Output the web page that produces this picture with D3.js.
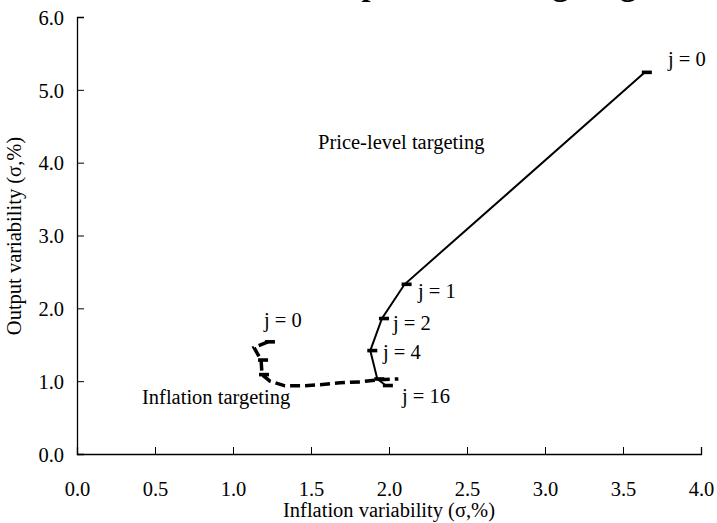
<!DOCTYPE html>
<html><head><meta charset="utf-8">
<script src="https://cdn.jsdelivr.net/npm/d3@7"></script>
<style>body{margin:0;background:#fff}svg{display:block}text{font-family:"Liberation Serif","Times New Roman",serif;fill:#000}</style>
</head><body>
<script>
// Data
const xTicks = [0,0.5,1.0,1.5,2.0,2.5,3.0,3.5,4.0];
const yTicks = [0,1,2,3,4,5,6];
// Price-level targeting path (horizons j)
const pltJ = [0,1,2,4,8,16];
const pltX = [3.64,2.10,1.955,1.88,1.925,1.98];
const pltY = [5.24,2.33,1.86,1.42,1.03,0.94];
// Inflation targeting path
const itX = [1.224,1.135,1.18,1.186,1.237,1.333,1.442,1.558,1.686,1.814,1.94,2.06];
const itY = [1.54,1.46,1.29,1.09,1.00,0.936,0.936,0.95,0.977,0.99,1.02,1.03];
const pointLabels = ["j = 0","j = 1","j = 2","j = 4","j = 16","j = 0"];
const seriesNames = ["Price-level targeting","Inflation targeting"];

const W=717,H=523,FS="20.5px";
const svg=d3.select("body").append("svg").attr("width",W).attr("height",H);
const x=d3.scaleLinear().domain([0,4]).range([77,701]);
const y=d3.scaleLinear().domain([0,6]).range([454,17]);

// title (cut off at the top edge in the original)
svg.append("text").attr("x",636).attr("y",-5).attr("text-anchor","end")
  .style("font-size","32px").style("font-weight","bold").text("The case for price-level targeting");

const fmt=d3.format(".1f");
const xa=svg.append("g").attr("transform","translate(0,454)")
  .call(d3.axisBottom(x).tickValues(xTicks).tickSize(-7).tickPadding(0).tickFormat(fmt));
const ya=svg.append("g").attr("transform","translate(77,0)")
  .call(d3.axisLeft(y).tickValues(yTicks).tickSize(-7).tickPadding(0).tickFormat(fmt));
[xa,ya].forEach(a=>{a.select(".domain").attr("stroke","#000").attr("stroke-width",1.3);
  a.selectAll(".tick line").attr("stroke","#000").attr("stroke-width",1);
  a.selectAll("text").style("font-size",FS).style("font-family","Liberation Serif").attr("fill","#000");});
xa.selectAll("text").attr("dy",null).attr("y",42);
ya.selectAll("text").attr("x",-13).attr("dy","0.35em");

svg.append("text").attr("x",389).attr("y",517).attr("text-anchor","middle").style("font-size",FS).text("Inflation variability (σ,%)");
svg.append("text").attr("transform","translate(21,236) rotate(-90)").attr("text-anchor","middle").style("font-size",FS).text("Output variability (σ,%)");

const line=d3.line().x(d=>x(d[0])).y(d=>y(d[1]));
const plt=pltX.map((v,i)=>[v,pltY[i]]);
const it=itX.map((v,i)=>[v,itY[i]]);

svg.append("path").attr("d",line(it)).attr("fill","none").attr("stroke","#000")
  .attr("stroke-width",3.5).attr("stroke-dasharray","10,5");
svg.append("path").attr("d",line(plt)).attr("fill","none").attr("stroke","#000").attr("stroke-width",2);

function dash(g,data){g.selectAll(null).data(data).enter().append("rect")
  .attr("x",d=>x(d[0])-3).attr("y",d=>y(d[1])-1.8).attr("width",10).attr("height",3.6).attr("fill","#000");}
dash(svg,plt);
dash(svg,[it[0],it[2],it[3]]);

const labPos=[[668,66],[418,298],[393,330],[383,359],[402,403],[264,327]];
svg.selectAll(null).data(labPos).enter().append("text").attr("x",d=>d[0]).attr("y",d=>d[1])
  .style("font-size",FS).text((d,i)=>pointLabels[i]);
svg.append("text").attr("x",318).attr("y",149).style("font-size",FS).text(seriesNames[0]);
svg.append("text").attr("x",142).attr("y",404).style("font-size",FS).text(seriesNames[1]);
</script>
</body></html>
